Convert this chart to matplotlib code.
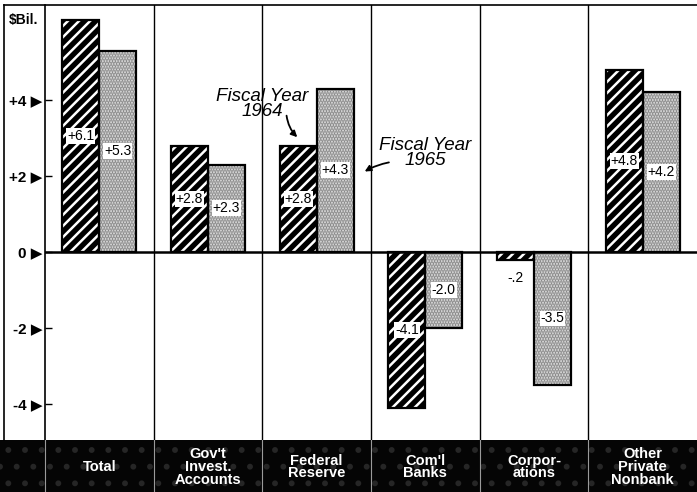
import numpy as np
import matplotlib as mpl
mpl.use("Agg")
import matplotlib.pyplot as plt
from matplotlib.lines import Line2D
from matplotlib.patches import FancyArrowPatch

# Data ($ billions)
categories = ["Total", "Gov't\nInvest.\nAccounts", "Federal\nReserve",
              "Com'l\nBanks", "Corpor-\nations", "Other\nPrivate\nNonbank"]
fy1964 = [6.1, 2.8, 2.8, -4.1, -0.2, 4.8]
fy1965 = [5.3, 2.3, 4.3, -2.0, -3.5, 4.2]
labels_1964 = ["+6.1", "+2.8", "+2.8", "-4.1", "-.2", "+4.8"]
labels_1965 = ["+5.3", "+2.3", "+4.3", "-2.0", "-3.5", "+4.2"]
yticks = [4, 2, 0, -2, -4]
ytick_labels = ["+4 \u25B6", "+2 \u25B6", "0 \u25B6", "-2 \u25B6", "-4 \u25B6"]

plt.rcParams['font.family'] = ['Liberation Sans', 'DejaVu Sans']
plt.rcParams['hatch.linewidth'] = 1.8

fig = plt.figure(figsize=(6.97, 4.92), dpi=100)
W, H = 697.0, 492.0

# main plotting area
ax = fig.add_axes([45 / W, 52 / H, 652 / W, 435 / H])
ax.set_xlim(-0.5, 5.5)
ax.set_ylim(-4.95, 6.5)

x = np.arange(len(categories))
w = 0.34

# Fiscal Year 1964: black with white diagonal stripes
ax.bar(x - w / 2, fy1964, w, facecolor='black', edgecolor='white', hatch='///', linewidth=0, zorder=2)
ax.bar(x - w / 2, fy1964, w, fill=False, edgecolor='black', linewidth=1.6, zorder=3)
# Fiscal Year 1965: light stipple
ax.bar(x + w / 2, fy1965, w, facecolor='#e4e4e4', edgecolor='#8a8a8a', hatch='......', linewidth=0, zorder=2)
ax.bar(x + w / 2, fy1965, w, fill=False, edgecolor='black', linewidth=1.6, zorder=3)

# value labels in white boxes at mid-bar
for xi, v, lab in zip(x, fy1964, labels_1964):
    if abs(v) < 0.5:
        ax.text(xi - w / 2, v - 0.3, lab, ha='center', va='top', fontsize=10, zorder=5)
    else:
        ax.text(xi - w / 2, v / 2, lab, ha='center', va='center', fontsize=10, zorder=5,
                bbox=dict(facecolor='white', edgecolor='none', pad=0.6))
for xi, v, lab in zip(x, fy1965, labels_1965):
    ax.text(xi + w / 2, v / 2, lab, ha='center', va='center', fontsize=10, zorder=5,
            bbox=dict(facecolor='white', edgecolor='none', pad=0.6))

# zero line and panel separators
ax.axhline(0, color='black', linewidth=1.8, zorder=4)
for b in np.arange(0.5, 5.5, 1.0):
    ax.axvline(b, color='black', linewidth=1.0, zorder=1)

# y axis
ax.set_yticks(yticks)
ax.set_yticklabels(ytick_labels, fontsize=11, fontweight='bold')
ax.tick_params(axis='y', direction='in', length=5, width=1, pad=2)
ax.set_xticks([])
for s in ['top', 'right', 'bottom']:
    ax.spines[s].set_visible(False)
ax.spines['left'].set_linewidth(1.2)

# annotations
ax.text(1.50, 3.9, "Fiscal Year\n1964", ha='center', va='center', fontsize=13.5,
        style='italic', linespacing=0.85)
ax.add_patch(FancyArrowPatch((1.72, 3.66), (1.84, 2.97), connectionstyle='arc3,rad=0.2',
                             arrowstyle='-|>', mutation_scale=9, color='black', lw=1.3, zorder=6))
ax.text(3.0, 2.6, "Fiscal Year\n1965", ha='center', va='center', fontsize=13.5,
        style='italic', linespacing=0.85)
ax.add_patch(FancyArrowPatch((2.69, 2.37), (2.42, 2.08), connectionstyle='arc3,rad=0.1',
                             arrowstyle='-|>', mutation_scale=9, color='black', lw=1.3, zorder=6))

# units label
fig.text(9 / W, 1 - 20 / H, "$Bil.", ha='left', va='center', fontsize=10, fontweight='bold')

# outer frame lines (left and top)
fig.add_artist(Line2D([4 / W, 4 / W], [1 - 5 / H, 52 / H], transform=fig.transFigure, color='black', lw=1.2))
fig.add_artist(Line2D([4 / W, 1], [1 - 5 / H, 1 - 5 / H], transform=fig.transFigure, color='black', lw=1.2))

# category band along the bottom
band = fig.add_axes([0, 0, 1, 52 / H])
band.set_xlim(-45 / 108.67 - 0.5, 5.5)
band.set_ylim(0, 1)
band.axis('off')
band.add_patch(plt.Rectangle((-45 / 108.67 - 0.5, 0), 6 + 45 / 108.67, 1, facecolor='#050505',
                             edgecolor='#262626', hatch='.', linewidth=0))
for b in np.arange(-0.5, 5.5, 1.0):
    band.axvline(b, color='#9a9a9a', linewidth=0.8)
for xi, c in zip(x, categories):
    band.text(xi, 0.48, c, ha='center', va='center', color='white', fontsize=10.5,
              fontweight='bold', linespacing=0.9)

fig.savefig("out.png", dpi=100)
